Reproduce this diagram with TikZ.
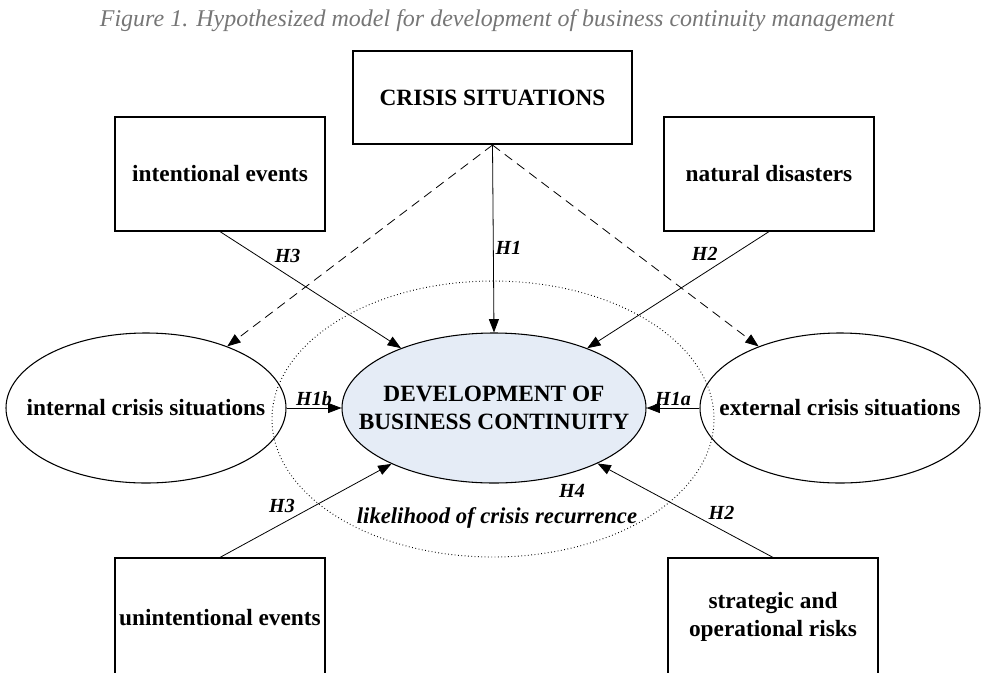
\documentclass[tikz,border=0pt]{standalone}
\usepackage{fontspec}
\setmainfont{Liberation Serif}
\usetikzlibrary{positioning,arrows.meta,shapes.geometric}

\definecolor{devfill}{RGB}{229,236,246}
\definecolor{capgray}{RGB}{118,118,118}

\begin{document}
\begin{tikzpicture}[x=0.75pt,y=-0.75pt,
			boxfont/.style={font=\fontsize{17.5}{21}\selectfont\bfseries},
			factorbox/.style={rectangle, draw, line width=0.9pt, minimum width=157.5pt, minimum height=85.5pt, align=center, inner sep=0pt, boxfont},
			crisisbox/.style={factorbox, line width=1.8pt, minimum width=209pt, minimum height=69.5pt},
			sideell/.style={ellipse, draw, line width=0.8pt, minimum width=210pt, minimum height=112.5pt, inner sep=0pt, label={[boxfont]center:#1}},
			devell/.style={ellipse, draw, line width=0.8pt, fill=devfill, minimum width=228pt, minimum height=112.5pt, inner sep=0pt, label={[boxfont, align=center]center:#1}},
			hlab/.style={font=\fontsize{15}{17}\selectfont\bfseries\itshape, inner sep=1.5pt},
			arr/.style={-{Triangle[length=10pt,width=7.5pt]}, line width=0.6pt},
			dasharr/.style={arr, dash pattern=on 7pt off 4.5pt},
			recur/.style={line width=0.7pt, dash pattern=on 0.6pt off 1.9pt},
		]
		\useasboundingbox (0,0) rectangle (981,672);
		\clip (0,0) rectangle (981,672);

		\node[font=\fontsize{18}{21}\selectfont\itshape, text=capgray] (caption) at (497,21) {Figure 1. Hypothesized model for development of business continuity management};

		% likelihood of recurrence ring goes below everything else
		\draw[recur] (493,419) ellipse [x radius=221, y radius=138];

		\node[crisisbox] (crisis) at (492.5,97.5) {CRISIS SITUATIONS};
		\node[factorbox] (intent)  at (220,174) {intentional events};
		\node[factorbox] (natural) at (769,174) {natural disasters};

		\node[sideell={internal crisis situations}] (internal) at (146,408) {};
		\node[devell={DEVELOPMENT OF\\BUSINESS CONTINUITY}] (dev) at (494,408) {};
		\node[sideell={external crisis situations}] (external) at (840,408) {};

		\node[factorbox, minimum height=90pt]   (unintent)  at (220,618) {unintentional events};
		\node[factorbox, minimum height=88.5pt] (strategic) at (773,617) {strategic and\\operational risks};

		\node[hlab] (h4) at (572,491) {H4};
		\node[hlab, font=\fontsize{17}{20}\selectfont\bfseries\itshape] (likely) at (497,518) {likelihood of crisis recurrence};

		\draw[arr] (crisis.south) -- (dev.north) node[hlab, pos=0.55, right] {H1};
		\draw[dasharr] (crisis.south) -- (internal);
		\draw[dasharr] (crisis.south) -- (external);

		\draw[arr] (intent.south)  -- (dev) node[hlab, pos=0.29, above right] {H3};
		\draw[arr] (natural.south) -- (dev) node[hlab, pos=0.27, above left] {H2};

		\draw[arr] (internal) -- (dev) node[hlab, midway, above] {H1b};
		\draw[arr] (external) -- (dev) node[hlab, midway, above] {H1a};

		\draw[arr] (unintent.north)  -- (dev) node[hlab, pos=0.45, above left] {H3};
		\draw[arr] (strategic.north) -- (dev) node[hlab, pos=0.38, above right] {H2};
	\end{tikzpicture}
\end{document}
